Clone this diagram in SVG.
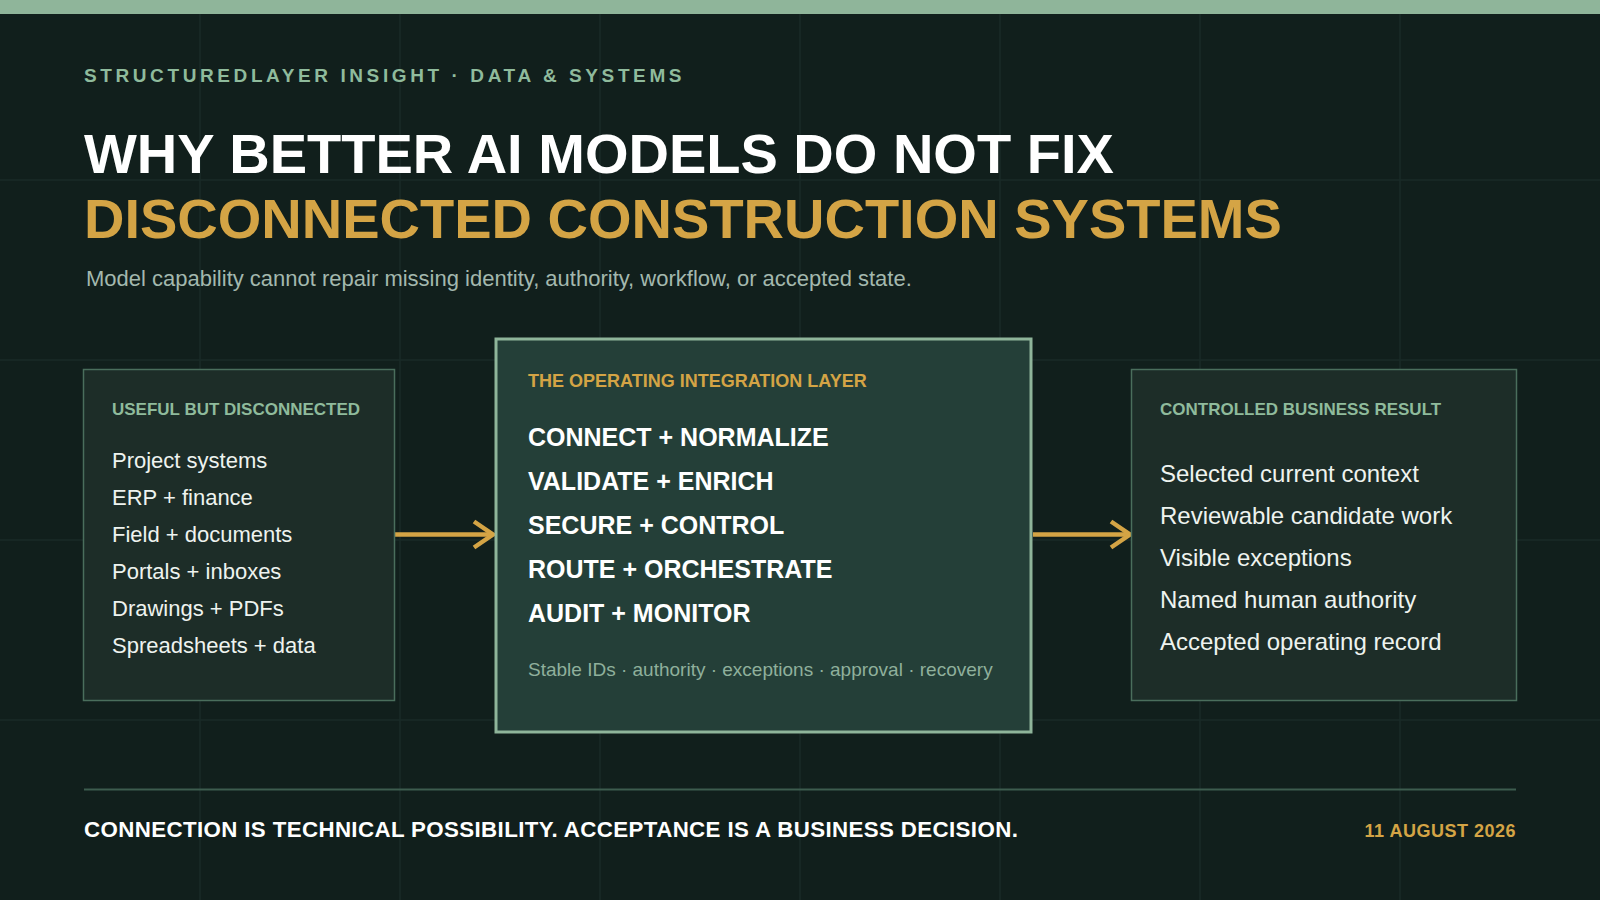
<svg xmlns="http://www.w3.org/2000/svg" width="1600" height="900" viewBox="0 0 1600 900">
<defs>
<style>
.bg{fill:#111f1c}
.grid line{stroke:#1a2b27;stroke-width:1.5}
.kicker{font-family:"Liberation Sans",Arial,sans-serif;font-weight:700;font-size:19px;letter-spacing:3.6px;fill:#8fbb9c}
.h1{font-family:"Liberation Sans",Arial,sans-serif;font-weight:700;font-size:56px}
.sub{font-family:"Liberation Sans",Arial,sans-serif;font-size:22px;fill:#a3b8ae}
.side{fill:#1d2d28;stroke:#4a6e5c;stroke-width:1.5}
.mid{fill:#243f38;stroke:#8fb59a;stroke-width:3}
.label{font-family:"Liberation Sans",Arial,sans-serif;font-weight:700;font-size:17px;fill:#8fbb9c}
.label.gold{fill:#d4a445;font-size:18px}
.item{font-family:"Liberation Sans",Arial,sans-serif;font-size:22px;fill:#eef3ef}
.item.r{font-size:24px}
.step{font-family:"Liberation Sans",Arial,sans-serif;font-weight:700;font-size:25px;fill:#ffffff}
.note{font-family:"Liberation Sans",Arial,sans-serif;font-size:19px;fill:#8fb09c}
.conn{stroke:#d4a445;stroke-width:4.5;fill:none}
.foot{font-family:"Liberation Sans",Arial,sans-serif;font-weight:700;font-size:22.3px;letter-spacing:0.38px;fill:#ffffff}
.date{font-family:"Liberation Sans",Arial,sans-serif;font-weight:700;font-size:18px;letter-spacing:0.5px;fill:#d4a445}
</style>
</defs>
<rect class="bg" x="0" y="0" width="1600" height="900"/>
<g class="grid">
<line x1="200" y1="0" x2="200" y2="900"/>
<line x1="400" y1="0" x2="400" y2="900"/>
<line x1="600" y1="0" x2="600" y2="900"/>
<line x1="800" y1="0" x2="800" y2="900"/>
<line x1="1000" y1="0" x2="1000" y2="900"/>
<line x1="1200" y1="0" x2="1200" y2="900"/>
<line x1="1400" y1="0" x2="1400" y2="900"/>
<line x1="0" y1="180" x2="1600" y2="180"/>
<line x1="0" y1="360" x2="1600" y2="360"/>
<line x1="0" y1="540" x2="1600" y2="540"/>
<line x1="0" y1="720" x2="1600" y2="720"/>
</g>
<rect x="0" y="0" width="1600" height="14" fill="#8fb59a"/>

<g id="header">
<text class="kicker" x="84" y="82">STRUCTUREDLAYER INSIGHT · DATA &amp; SYSTEMS</text>
<text class="h1" x="84" y="173" fill="#ffffff">WHY BETTER AI MODELS DO NOT FIX</text>
<text class="h1" x="84" y="238" fill="#d4a445">DISCONNECTED CONSTRUCTION SYSTEMS</text>
<text class="sub" x="86" y="286">Model capability cannot repair missing identity, authority, workflow, or accepted state.</text>
</g>

<g id="connectors">
<line class="conn" x1="394" y1="534.5" x2="492" y2="534.5"/>
<polyline class="conn" points="474,521.5 493,534.5 474,547.5"/>
<line class="conn" x1="1033" y1="534.5" x2="1129" y2="534.5"/>
<polyline class="conn" points="1111,521.5 1130,534.5 1111,547.5"/>
</g>

<g id="node-disconnected">
<rect class="side" x="83.5" y="369.5" width="311" height="331"/>
<text class="label" x="112" y="415">USEFUL BUT DISCONNECTED</text>
<text class="item" x="112" y="468">Project systems</text>
<text class="item" x="112" y="505">ERP + finance</text>
<text class="item" x="112" y="542">Field + documents</text>
<text class="item" x="112" y="579">Portals + inboxes</text>
<text class="item" x="112" y="616">Drawings + PDFs</text>
<text class="item" x="112" y="653">Spreadsheets + data</text>
</g>

<g id="node-integration-layer">
<rect class="mid" x="496" y="339" width="535" height="393"/>
<text class="label gold" x="528" y="387">THE OPERATING INTEGRATION LAYER</text>
<text class="step" x="528" y="446">CONNECT + NORMALIZE</text>
<text class="step" x="528" y="490">VALIDATE + ENRICH</text>
<text class="step" x="528" y="534">SECURE + CONTROL</text>
<text class="step" x="528" y="578">ROUTE + ORCHESTRATE</text>
<text class="step" x="528" y="622">AUDIT + MONITOR</text>
<text class="note" x="528" y="676">Stable IDs · authority · exceptions · approval · recovery</text>
</g>

<g id="node-result">
<rect class="side" x="1131.5" y="369.5" width="385" height="331"/>
<text class="label" x="1160" y="415">CONTROLLED BUSINESS RESULT</text>
<text class="item r" x="1160" y="482">Selected current context</text>
<text class="item r" x="1160" y="524">Reviewable candidate work</text>
<text class="item r" x="1160" y="566">Visible exceptions</text>
<text class="item r" x="1160" y="608">Named human authority</text>
<text class="item r" x="1160" y="650">Accepted operating record</text>
</g>

<g id="footer">
<line x1="84" y1="789.5" x2="1516" y2="789.5" stroke="#3d5c4e" stroke-width="2"/>
<text class="foot" x="84" y="837">CONNECTION IS TECHNICAL POSSIBILITY. ACCEPTANCE IS A BUSINESS DECISION.</text>
<text class="date" x="1516" y="837" text-anchor="end">11 AUGUST 2026</text>
</g>
</svg>
